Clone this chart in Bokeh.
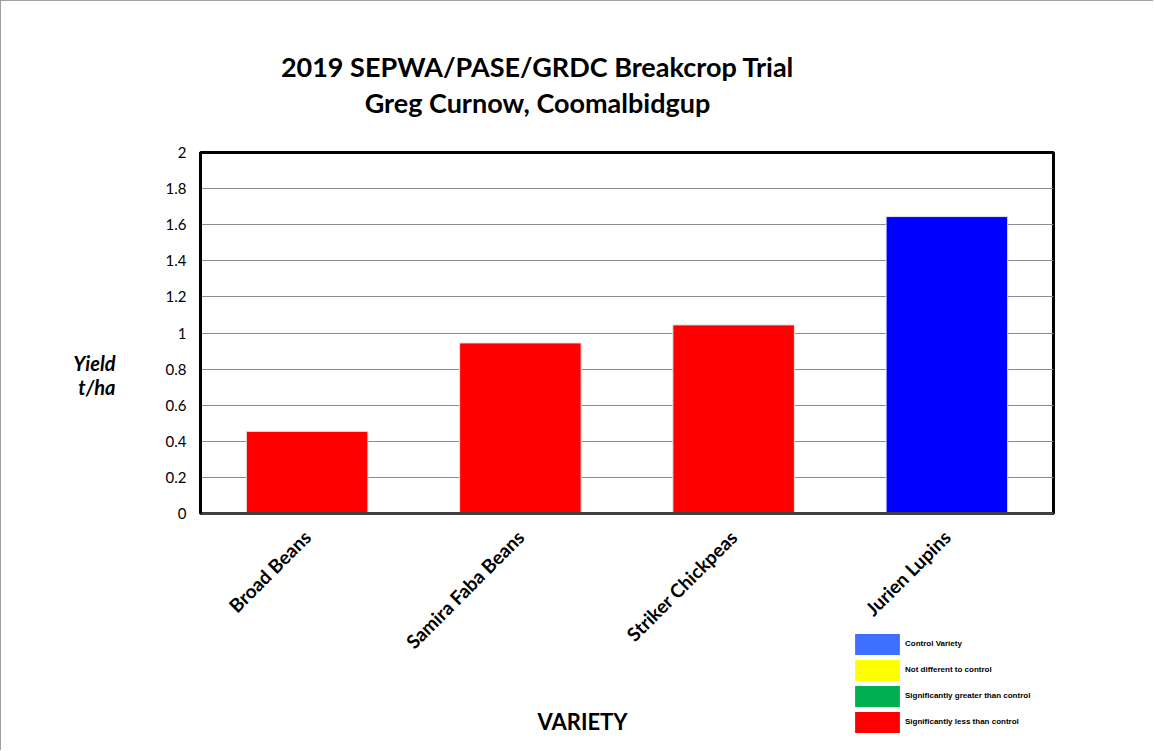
from bokeh.plotting import figure
from bokeh.layouts import column
from bokeh.models import (Range1d, Legend, LegendItem, ColumnDataSource, FixedTicker,
                          Label, LinearAxis)
from bokeh.embed import file_html
from bokeh.resources import INLINE
from math import pi

# ---- data ----
categories = ["Broad Beans", "Samira Faba Beans", "Striker Chickpeas", "Jurien Lupins"]
yields = [0.455, 0.945, 1.045, 1.645]
bar_colors = ["#ff0000", "#ff0000", "#ff0000", "#0000ff"]
y_ticks = [0, 0.2, 0.4, 0.6, 0.8, 1.0, 1.2, 1.4, 1.6, 1.8, 2.0]
legend_labels = ["Control Variety", "Not different to control",
                 "Significantly greater than control", "Significantly less than control"]
legend_colors = ["#3f6fff", "#ffff00", "#00b050", "#ff0000"]
title_lines = ["2019 SEPWA/PASE/GRDC Breakcrop Trial", "Greg Curnow, Coomalbidgup"]
y_label = "Yield\nt/ha"
x_label = "VARIETY"

W, H = 1153, 750
ML, MT, MR, MB = 199, 151, 101, 238

xpos = list(range(len(categories)))

# ---------------- main chart ----------------
p = figure(x_range=Range1d(-0.5, len(categories) - 0.5), y_range=Range1d(0, 2),
           width=W, height=H, output_backend="svg", toolbar_location=None, title=None,
           min_border_left=ML, min_border_top=MT, min_border_right=MR, min_border_bottom=MB)
p.styles = {"border-left": "1px solid #a0a0a0", "border-top": "1px solid #a0a0a0"}

src = ColumnDataSource(dict(x=xpos, val=yields, col=bar_colors))
p.vbar(x="x", top="val", width=0.57, source=src, fill_color="col",
       line_color="#e6e6e6", line_width=1)

p.outline_line_color = "black"
p.outline_line_width = 3
p.background_fill_color = "white"
p.border_fill_color = "white"

p.xgrid.grid_line_color = None
p.ygrid.grid_line_color = "#8c8c8c"
p.ygrid.grid_line_width = 1

yax = p.yaxis[0]
yax.ticker = FixedTicker(ticks=y_ticks)
yax.major_label_overrides = {1.0: "1", 2.0: "2", 0: "0"}
yax.axis_line_color = "black"
yax.axis_line_width = 3
yax.major_tick_line_color = None
yax.minor_tick_line_color = None
yax.major_tick_out = 0
yax.minor_tick_out = 0
yax.major_label_standoff = 14
yax.major_label_text_font = "Lato"
yax.major_label_text_font_size = "15px"
yax.major_label_text_color = "black"

xax = p.xaxis[0]
xax.ticker = FixedTicker(ticks=xpos)
xax.major_label_overrides = {i: c for i, c in zip(xpos, categories)}
xax.axis_line_color = "#404040"
xax.axis_line_width = 3
xax.major_tick_line_color = None
xax.minor_tick_line_color = None
xax.major_tick_out = 0
xax.minor_tick_out = 0
xax.major_label_orientation = pi / 4
xax.major_label_standoff = 20
xax.major_label_text_font = "Lato"
xax.major_label_text_font_style = "bold"
xax.major_label_text_font_size = "19px"
xax.major_label_text_color = "black"

# ---------------- transparent overlay for titles, axis titles and colour key ----------------
# In the column its frame is aligned with the chart's frame horizontally (page x 199..1053)
# and spans the full page height vertically, so its ranges are page-pixel coordinates.
OW, OH = 1154, 751
ov = figure(width=OW, height=OH, x_range=Range1d(199, 1053), y_range=Range1d(OH, 0),
            x_axis_type=None, y_axis_type=None, toolbar_location=None,
            output_backend="svg", min_border=0)
ov.outline_line_color = None
ov.background_fill_alpha = 0
ov.border_fill_alpha = 0
ov.margin = (-OH, 0, 0, 0)

def text(t, x, y, size, style="bold", align="center", font="Lato"):
    ov.add_layout(Label(x=x, y=y, text=t, text_font=font, text_font_size=size,
                        text_font_style=style, text_align=align, text_baseline="middle",
                        text_color="black"))

text(title_lines[0], 537, 67, "27px")
text(title_lines[1], 537, 103, "27px")
text(x_label, 582, 722, "22px")

# y title: label of a tick-less axis in the overlay's left border (centred on the page height)
ylab_axis = LinearAxis(ticker=FixedTicker(ticks=[]), axis_line_color=None,
                       major_tick_line_color=None, minor_tick_line_color=None,
                       major_tick_out=0, minor_tick_out=0, major_label_standoff=0,
                       axis_label=y_label, axis_label_orientation="horizontal",
                       axis_label_standoff=84, axis_label_text_font="Lato",
                       axis_label_text_font_size="20px",
                       axis_label_text_font_style="bold italic",
                       axis_label_text_color="black", axis_label_text_line_height=1.04)
ov.add_layout(ylab_axis, "left")

items = []
for lab, col in zip(legend_labels, legend_colors):
    # one off-screen mark per key entry so the key swatch has a colour to draw
    r = ov.vbar(x=[-100], top=[-50], bottom=[-60], width=10, fill_color=col, line_color=None)
    items.append(LegendItem(label=lab, renderers=[r]))
gw, gh = 56, 26
leg = Legend(items=items, location=(849 - 199, OH - 631.5 - 4 * gh),
             glyph_width=gw, glyph_height=gh, spacing=0, padding=0, margin=0,
             label_standoff=0, label_height=gh,
             label_text_font="Liberation Sans", label_text_font_style="bold",
             label_text_font_size="8px", label_text_color="black",
             border_line_color=None, background_fill_alpha=0)
ov.add_layout(leg, "center")

layout = column(p, ov, spacing=0)
open("out.html", "w").write(file_html(layout, INLINE))
